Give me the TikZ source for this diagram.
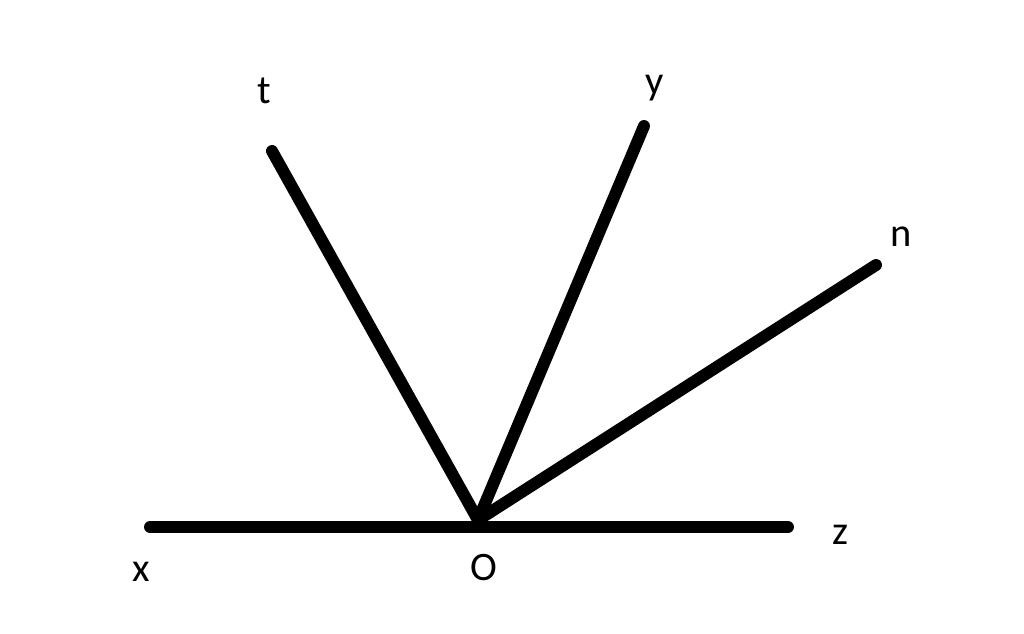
\documentclass[tikz,border=0pt]{standalone}
\usepackage{fontspec}
\setmainfont{Carlito}
\usetikzlibrary{positioning}

\begin{document}
\begin{tikzpicture}[x=0.01cm, y=-0.01cm,
	ray/.style={line width=3.4pt, line cap=round},
	lbl/.style={inner sep=0pt, font=\fontsize{11.5}{14}\selectfont}]

	\useasboundingbox (0,0) rectangle (1024,633);

	\coordinate (O) at (478,520);
	\coordinate (x) at (150,527);
	\coordinate (z) at (788,527);
	\coordinate (t) at (272,151);
	\coordinate (y) at (644,126);
	\coordinate (n) at (876,265);

	\draw[ray] (x) -- (z);
	\draw[ray] (O) -- (t);
	\draw[ray] (O) -- (y);
	\draw[ray] (O) -- (n);

	\node (tl) [lbl] at (264,91) {t};
	\node (yl) [lbl] at (655,88) {y};
	\node (nl) [lbl] at (901,237) {n};
	\node (zl) [lbl] at (840,535) {z};
	\node (xl) [lbl] at (141,572) {x};
	\node (Ol) [lbl] at (484,568) {O};

\end{tikzpicture}
\end{document}
